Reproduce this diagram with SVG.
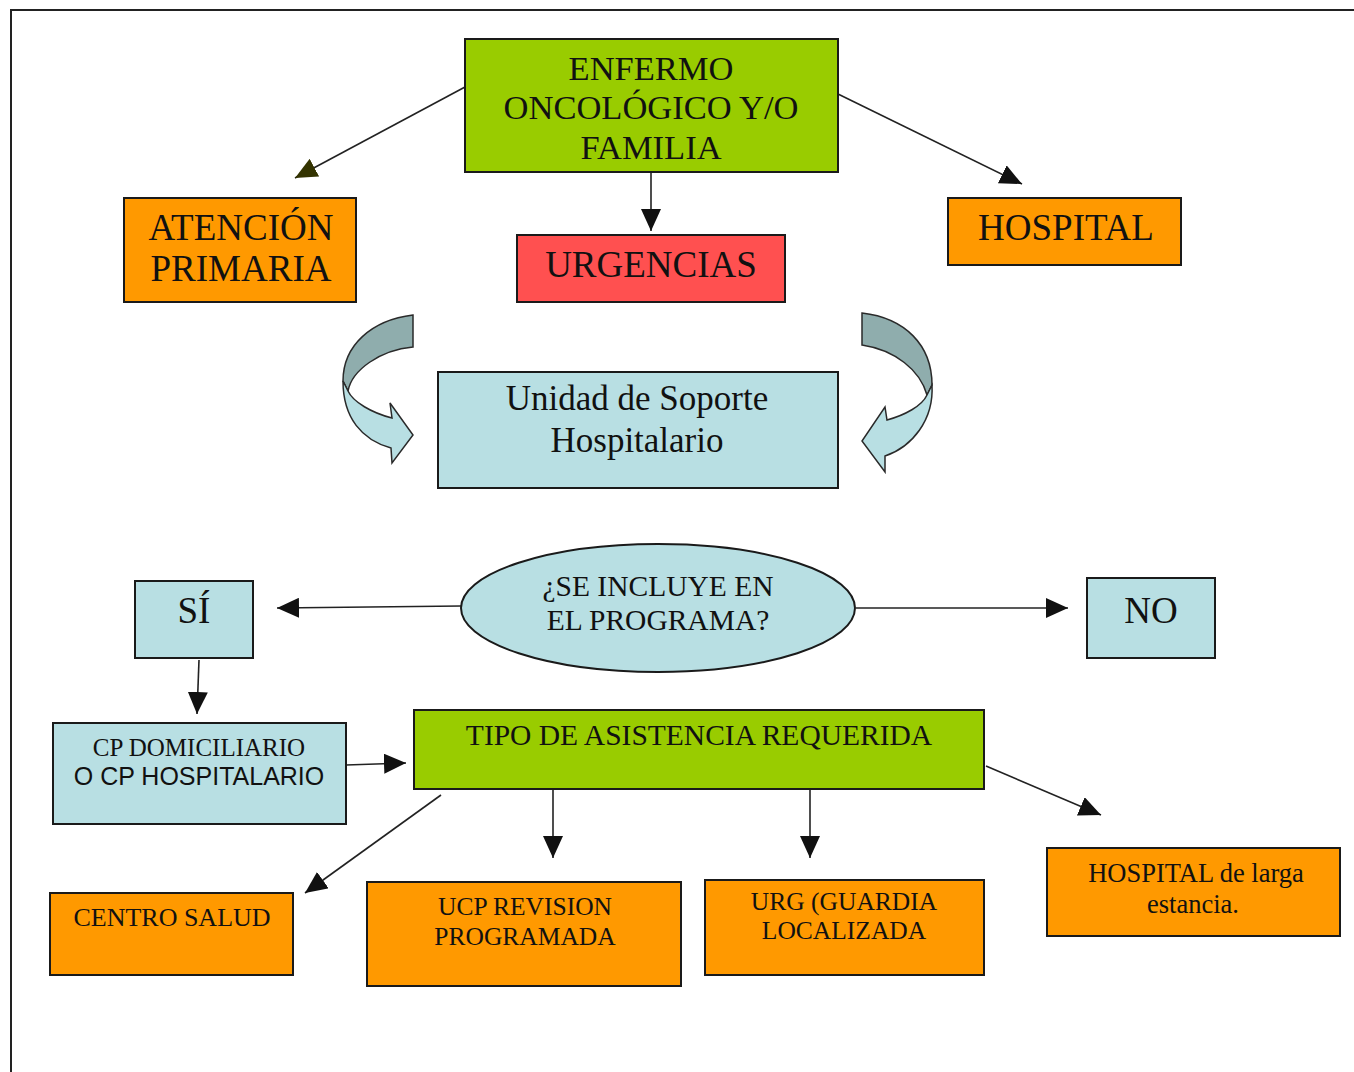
<svg xmlns="http://www.w3.org/2000/svg" width="1354" height="1072" viewBox="0 0 1354 1072">
<style>
.box{stroke:#1a1a1a;stroke-width:2}
.green{fill:#99CC00}
.orange{fill:#FF9900}
.red{fill:#FF5050}
.blue{fill:#B8DFE3}
.t{font-family:"Liberation Serif","Times New Roman",serif;fill:#111;text-anchor:middle}
.s{font-family:"Liberation Sans",Arial,sans-serif;fill:#111;text-anchor:middle}
.c{stroke:#222;stroke-width:1.6;fill:none}
.curv{stroke:#2a2a2a;stroke-width:1.5}
</style>
<defs>
<marker id="ah" markerUnits="userSpaceOnUse" markerWidth="24" markerHeight="20" refX="22" refY="10" orient="auto">
<path d="M0,0 L22,10 L0,20 Z" fill="#111"/>
</marker>
<marker id="ah2" markerUnits="userSpaceOnUse" markerWidth="24" markerHeight="20" refX="22" refY="10" orient="auto">
<path d="M0,0 L22,10 L0,20 Z" fill="#333300"/>
</marker>
</defs>
<rect width="1354" height="1072" fill="#fff"/>
<path d="M11,1072 V10 H1354" fill="none" stroke="#222" stroke-width="2"/>

<g id="connectors">
<line class="c" x1="465" y1="87" x2="295" y2="178" stroke="#555" marker-end="url(#ah2)"/>
<line class="c" x1="838" y1="94" x2="1022" y2="184" marker-end="url(#ah)"/>
<line class="c" x1="651" y1="172" x2="651" y2="231" marker-end="url(#ah)"/>
<line class="c" x1="461" y1="606" x2="277" y2="608" marker-end="url(#ah)"/>
<line class="c" x1="856" y1="608" x2="1068" y2="608" marker-end="url(#ah)"/>
<line class="c" x1="199" y1="660" x2="197" y2="714" marker-end="url(#ah)"/>
<line class="c" x1="346" y1="765" x2="406" y2="763" marker-end="url(#ah)"/>
<line class="c" x1="441" y1="795" x2="305" y2="893" marker-end="url(#ah)"/>
<line class="c" x1="553" y1="790" x2="553" y2="858" marker-end="url(#ah)"/>
<line class="c" x1="810" y1="790" x2="810" y2="858" marker-end="url(#ah)"/>
<line class="c" x1="986" y1="766" x2="1101" y2="815" marker-end="url(#ah)"/>
<g id="curved-left">
<path class="curv" fill="#8FADAD" d="M413,315 C372,320 343,345 343,381 L348,391 C352,370 380,350 413,347 Z"/>
<path class="curv" fill="#B8DFE3" d="M343,381 C343,418 362,440 391,448 L392,463 L413,435 L390,403 L392,418 C372,413 353,402 348,391 Z"/>
</g>
<g id="curved-right">
<path class="curv" fill="#8FADAD" d="M862,313 C905,318 932,345 932,385 L927,395 C920,370 895,350 862,345 Z"/>
<path class="curv" fill="#B8DFE3" d="M932,385 C934,420 912,447 885,456 L885,472 L862,441 L885,407 L887,420 C905,415 922,406 927,395 Z"/>
</g>
</g>

<g id="enfermo">
<rect class="box green" x="465" y="39" width="373" height="133"/>
<text class="t" x="651" y="80" font-size="34.5">ENFERMO</text>
<text class="t" x="651" y="119" font-size="34.5">ONCOLÓGICO Y/O</text>
<text class="t" x="651" y="159" font-size="34.5">FAMILIA</text>
</g>
<g id="atencion">
<rect class="box orange" x="124" y="198" width="232" height="104"/>
<text class="t" x="241" y="240" font-size="37">ATENCIÓN</text>
<text class="t" x="241" y="281" font-size="37">PRIMARIA</text>
</g>
<g id="urgencias">
<rect class="box red" x="517" y="235" width="268" height="67"/>
<text class="t" x="651" y="277" font-size="37">URGENCIAS</text>
</g>
<g id="hospital">
<rect class="box orange" x="948" y="198" width="233" height="67"/>
<text class="t" x="1066" y="240" font-size="37">HOSPITAL</text>
</g>
<g id="unidad">
<rect class="box blue" x="438" y="372" width="400" height="116"/>
<text class="t" x="637" y="410" font-size="35">Unidad de Soporte</text>
<text class="t" x="637" y="452" font-size="35">Hospitalario</text>
</g>
<g id="programa">
<ellipse class="box blue" cx="658" cy="608" rx="197" ry="64"/>
<text class="t" x="658" y="596" font-size="29.5">¿SE INCLUYE EN</text>
<text class="t" x="658" y="630" font-size="29.5">EL PROGRAMA?</text>
</g>
<g id="si">
<rect class="box blue" x="135" y="581" width="118" height="77"/>
<text class="t" x="194" y="623" font-size="37">SÍ</text>
</g>
<g id="no">
<rect class="box blue" x="1087" y="578" width="128" height="80"/>
<text class="t" x="1151" y="623" font-size="37">NO</text>
</g>
<g id="cp">
<rect class="box blue" x="53" y="723" width="293" height="101"/>
<text class="t" x="199" y="756" font-size="25">CP DOMICILIARIO</text>
<text class="s" x="199" y="785" font-size="25">O CP HOSPITALARIO</text>
</g>
<g id="tipo">
<rect class="box green" x="414" y="710" width="570" height="79"/>
<text class="t" x="699" y="745" font-size="29.5">TIPO DE ASISTENCIA REQUERIDA</text>
</g>
<g id="centro">
<rect class="box orange" x="50" y="893" width="243" height="82"/>
<text class="t" x="172" y="926" font-size="26">CENTRO SALUD</text>
</g>
<g id="ucp">
<rect class="box orange" x="367" y="882" width="314" height="104"/>
<text class="t" x="525" y="915" font-size="25.5">UCP REVISION</text>
<text class="t" x="525" y="945" font-size="25.5">PROGRAMADA</text>
</g>
<g id="urg">
<rect class="box orange" x="705" y="880" width="279" height="95"/>
<text class="t" x="844" y="910" font-size="25.5">URG (GUARDIA</text>
<text class="t" x="844" y="939" font-size="25.5">LOCALIZADA</text>
</g>
<g id="hospital-larga">
<rect class="box orange" x="1047" y="848" width="293" height="88"/>
<text class="t" x="1196" y="882" font-size="26.5">HOSPITAL de larga</text>
<text class="t" x="1193" y="913" font-size="26.5">estancia.</text>
</g>
</svg>
